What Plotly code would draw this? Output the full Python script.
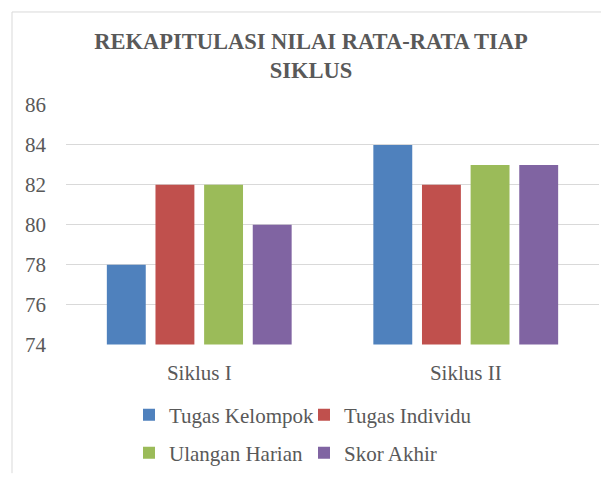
import plotly.graph_objects as go

categories = ["Siklus I", "Siklus II"]
tugas_kelompok = [78, 84]
tugas_individu = [82, 82]
ulangan_harian = [82, 83]
skor_akhir = [80, 83]
y_ticks = [74, 76, 78, 80, 82, 84, 86]

series = [
    ("Tugas Kelompok", tugas_kelompok, "#4f81bd", "legend"),
    ("Tugas Individu", tugas_individu, "#c0504d", "legend"),
    ("Ulangan Harian", ulangan_harian, "#9bbb59", "legend2"),
    ("Skor Akhir", skor_akhir, "#8064a2", "legend2"),
]

font_family = "Liberation Serif, Times New Roman, serif"
gray = "#595959"

fig = go.Figure()
for name, vals, color, leg in series:
    fig.add_trace(go.Bar(
        x=categories, y=vals, name=name, marker_color=color,
        marker_line_width=0, legend=leg,
    ))

W, H = 601, 469
L, R, T, B = 58, 10, 97, 130
pw = W - L - R
ph = H - T - B

legend_common = dict(
    orientation="h", xref="container", yref="container",
    entrywidth=130, entrywidthmode="pixels", itemwidth=30,
    font=dict(family=font_family, size=21, color=gray),
    bgcolor="rgba(0,0,0,0)", tracegroupgap=0, itemsizing="constant",
)

fig.update_layout(
    width=W, height=H,
    margin=dict(l=L, r=R, t=T, b=B),
    paper_bgcolor="white", plot_bgcolor="white",
    barmode="group", bargap=0.27, bargroupgap=0.2,
    font=dict(family=font_family, color=gray),
    title=dict(
        text="<b>REKAPITULASI NILAI RATA-RATA TIAP<br>SIKLUS</b>",
        x=303 / W, xref="container", xanchor="center",
        y=1 - 41 / H, yanchor="top",
        font=dict(family=font_family, size=22.5, color=gray),
    ),
    xaxis=dict(
        showgrid=False, showline=False, ticks="", ticklabelstandoff=13,
        tickfont=dict(family=font_family, size=21, color=gray),
    ),
    yaxis=dict(
        range=[74, 86], tickvals=y_ticks,
        showgrid=True, gridcolor="#d9d9d9", gridwidth=1,
        zeroline=False, showline=False, ticks="", ticklabelstandoff=19,
        tickfont=dict(family=font_family, size=21, color=gray),
    ),
    legend=dict(x=121 / W, y=1 - 407 / H, xanchor="left", yanchor="middle", **legend_common),
    legend2=dict(x=121 / W, y=1 - 445 / H, xanchor="left", yanchor="middle", **legend_common),
    showlegend=True,
    shapes=[
        dict(type="line", xref="paper", yref="paper",
             x0=(4 - L) / pw, x1=(W - L) / pw, y0=1 + (T - 3) / ph, y1=1 + (T - 3) / ph,
             line=dict(color="#d9d9d9", width=1)),
        dict(type="line", xref="paper", yref="paper",
             x0=(4 - L) / pw, x1=(4 - L) / pw, y0=1 + (T - 3) / ph, y1=-(B) / ph,
             line=dict(color="#d9d9d9", width=1)),
    ],
)

fig.write_html("out.html")
